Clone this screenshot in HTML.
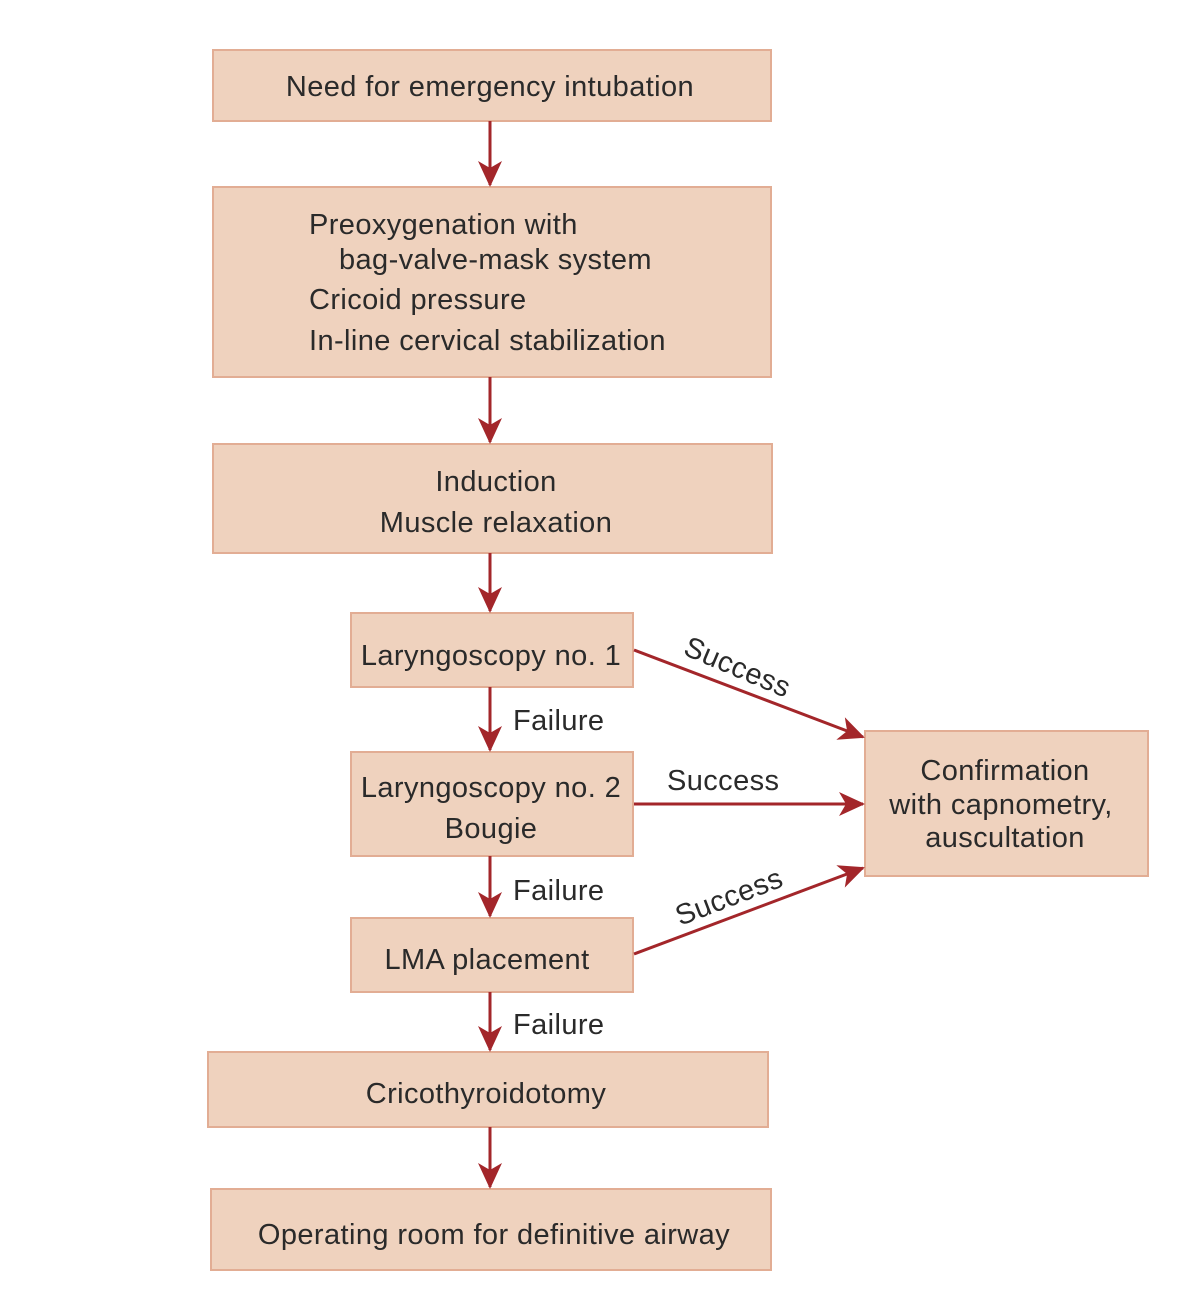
<!DOCTYPE html>
<html><head><style>body{margin:0;background:#fff}</style></head><body>
<svg width="1203" height="1287" xmlns="http://www.w3.org/2000/svg" font-family="Liberation Sans, sans-serif" font-size="29" fill="#2a2a2a" letter-spacing="0.4">
<defs>
<marker id="b" markerWidth="26" markerHeight="26" refX="24" refY="13" orient="auto" markerUnits="userSpaceOnUse" viewBox="0 0 26 26"><path d="M0,1 L26,13 L0,25 L7,13z" fill="#a3262a"/></marker></defs>
<g fill="#efd2be" stroke="#e2ad94" stroke-width="2">
<rect x="213" y="50" width="558" height="71"/>
<rect x="213" y="187" width="558" height="190"/>
<rect x="213" y="444" width="559" height="109"/>
<rect x="351" y="613" width="282" height="74"/>
<rect x="351" y="752" width="282" height="104"/>
<rect x="351" y="918" width="282" height="74"/>
<rect x="208" y="1052" width="560" height="75"/>
<rect x="211" y="1189" width="560" height="81"/>
<rect x="865" y="731" width="283" height="145"/>
</g>
<g stroke="#a3262a" stroke-width="3" marker-end="url(#b)">
<line x1="490" y1="121" x2="490" y2="185"/>
<line x1="490" y1="377" x2="490" y2="442"/>
<line x1="490" y1="553" x2="490" y2="611"/>
<line x1="490" y1="687" x2="490" y2="750"/>
<line x1="490" y1="856" x2="490" y2="916"/>
<line x1="490" y1="992" x2="490" y2="1050"/>
<line x1="490" y1="1127" x2="490" y2="1187"/>
<line x1="634" y1="650" x2="863" y2="737"/>
<line x1="634" y1="804" x2="863" y2="804"/>
<line x1="634" y1="954" x2="863" y2="868"/>
</g>
<text x="490" y="96" text-anchor="middle">Need for emergency intubation</text>
<text x="309" y="234">Preoxygenation with</text>
<text x="339" y="269">bag-valve-mask system</text>
<text x="309" y="309">Cricoid pressure</text>
<text x="309" y="350">In-line cervical stabilization</text>
<text x="496" y="491" text-anchor="middle">Induction</text>
<text x="496" y="532" text-anchor="middle">Muscle relaxation</text>
<text x="491" y="665" text-anchor="middle">Laryngoscopy no. 1</text>
<text x="491" y="797" text-anchor="middle">Laryngoscopy no. 2</text>
<text x="491" y="838" text-anchor="middle">Bougie</text>
<text x="487" y="969" text-anchor="middle">LMA placement</text>
<text x="486" y="1103" text-anchor="middle">Cricothyroidotomy</text>
<text x="494" y="1244" text-anchor="middle">Operating room for definitive airway</text>
<text x="1005" y="780" text-anchor="middle">Confirmation</text>
<text x="1001" y="814" text-anchor="middle">with capnometry,</text>
<text x="1005" y="847" text-anchor="middle">auscultation</text>
<text x="513" y="730">Failure</text>
<text x="513" y="900">Failure</text>
<text x="513" y="1034">Failure</text>
<text x="667" y="790">Success</text>
<text x="0" y="0" transform="translate(682,654) rotate(23)">Success</text>
<text x="0" y="0" transform="translate(680,926) rotate(-21)">Success</text>
</svg>
</body></html>
